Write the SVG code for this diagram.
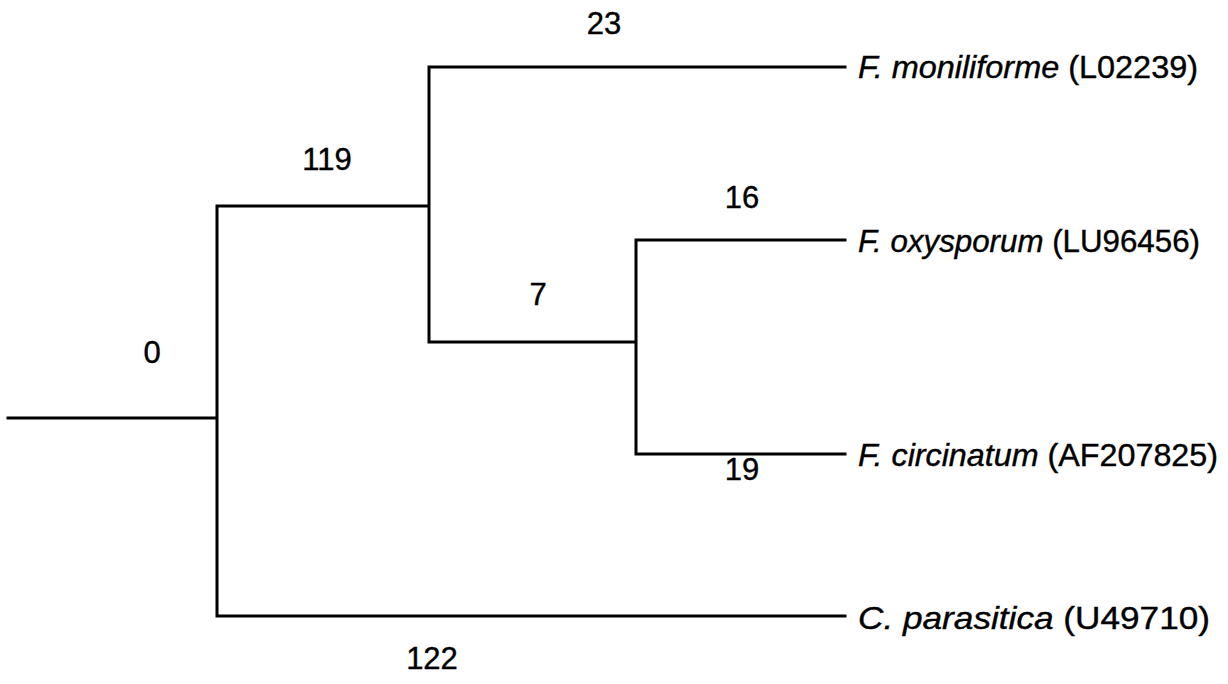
<svg xmlns="http://www.w3.org/2000/svg" width="1228" height="684" viewBox="0 0 1228 684">
<style>
.br{stroke:#000;stroke-width:3;fill:none;stroke-linecap:square}
text{font-family:"Liberation Sans",Arial,sans-serif;font-size:31px;fill:#000;stroke:#000;stroke-width:0.4}
.leaf{font-size:32px}
.sp{font-style:italic}
</style>
<rect width="1228" height="684" fill="#fff"/>
<g id="connectors">
<path class="br" d="M8,418H217M217,206V616M217,206H429M217,616H845M429,67V342M429,67H845M429,342H636M636,240V454M636,240H845M636,454H845"/>
</g>
<g id="branch-labels">
<text x="152" y="363" text-anchor="middle">0</text>
<text x="327" y="170" text-anchor="middle">119</text>
<text x="604" y="34" text-anchor="middle">23</text>
<text x="538" y="305" text-anchor="middle">7</text>
<text x="742" y="208" text-anchor="middle">16</text>
<text x="742" y="480" text-anchor="middle">19</text>
<text x="432" y="669" text-anchor="middle">122</text>
</g>
<g id="leaf-moniliforme"><text class="leaf" x="858" y="78" textLength="340" lengthAdjust="spacingAndGlyphs"><tspan class="sp">F. moniliforme</tspan> (L02239)</text></g>
<g id="leaf-oxysporum"><text class="leaf" x="858" y="252" textLength="342" lengthAdjust="spacingAndGlyphs"><tspan class="sp">F. oxysporum</tspan> (LU96456)</text></g>
<g id="leaf-circinatum"><text class="leaf" x="858" y="466" textLength="360" lengthAdjust="spacingAndGlyphs"><tspan class="sp">F. circinatum</tspan> (AF207825)</text></g>
<g id="leaf-parasitica"><text class="leaf" x="858" y="629" textLength="352" lengthAdjust="spacingAndGlyphs"><tspan class="sp">C. parasitica</tspan> (U49710)</text></g>
</svg>
